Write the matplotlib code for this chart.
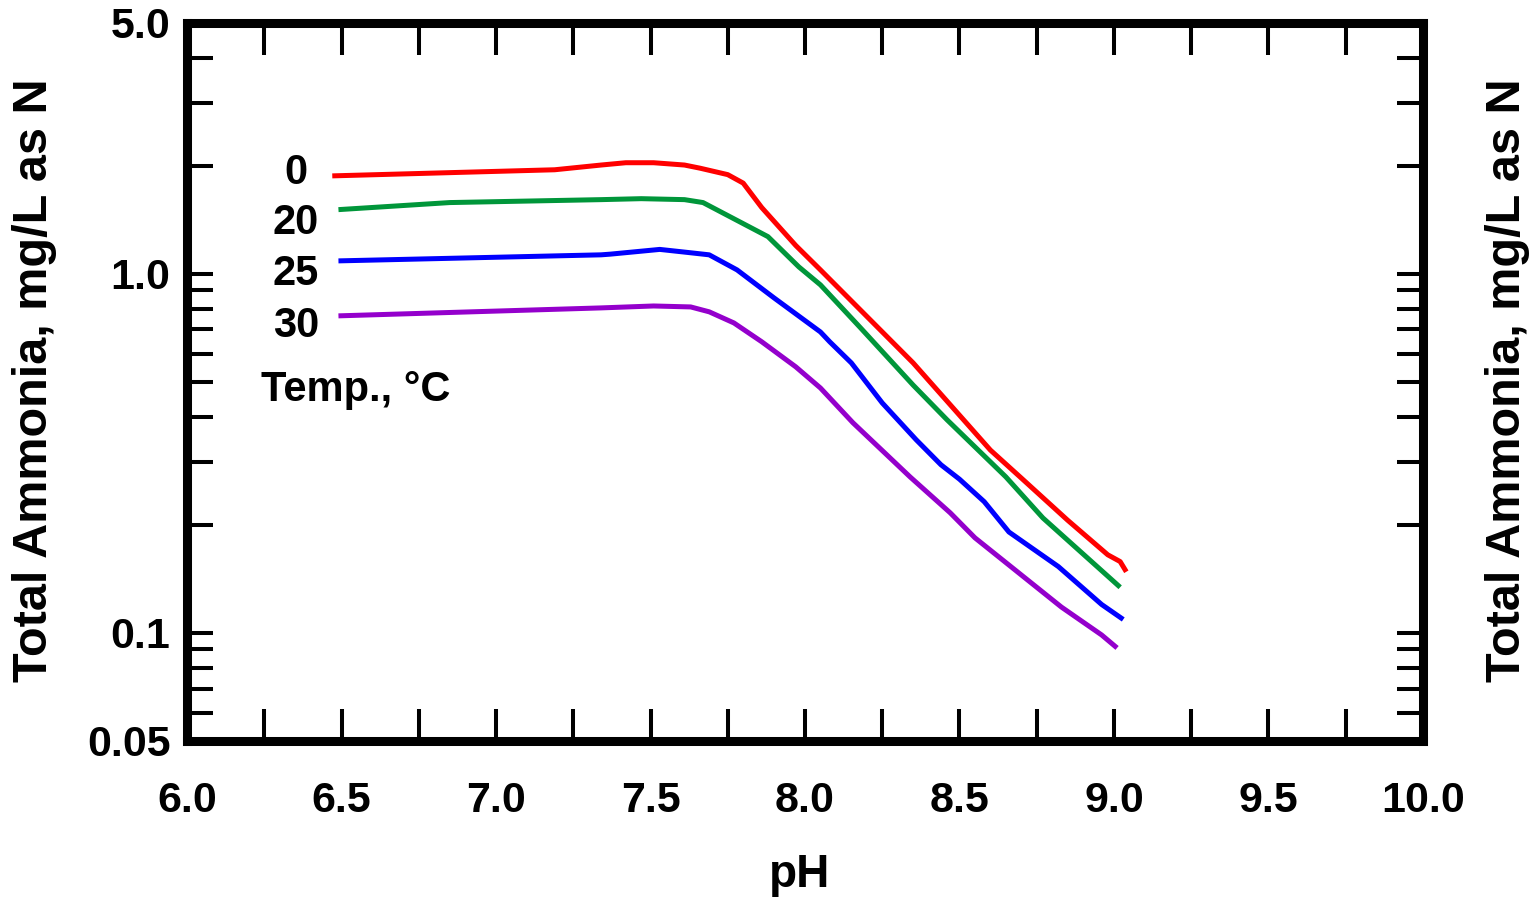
import numpy as np
import matplotlib
matplotlib.use("Agg")
import matplotlib.pyplot as plt
from matplotlib.ticker import FixedLocator, NullFormatter

plt.rcParams['font.family'] = ['Liberation Sans', 'DejaVu Sans']
plt.rcParams['font.weight'] = 'bold'

# Curves: pH vs total ammonia (mg/L as N)
ph_0 = [6.47, 7.19, 7.34, 7.42, 7.51, 7.61, 7.66, 7.75, 7.80, 7.86, 7.97, 8.05,
        8.35, 8.60, 8.70, 8.85, 8.98, 9.02, 9.04]
nh3_0 = [1.875, 1.95, 2.01, 2.04, 2.04, 2.01, 1.97, 1.89, 1.79, 1.53, 1.20, 1.026,
         0.565, 0.323, 0.270, 0.206, 0.165, 0.158, 0.148]

ph_20 = [6.49, 6.85, 7.34, 7.47, 7.61, 7.67, 7.88, 7.98, 8.05, 8.18, 8.35, 8.46,
         8.65, 8.77, 9.02]
nh3_20 = [1.51, 1.58, 1.61, 1.62, 1.61, 1.58, 1.27, 1.046, 0.932, 0.707, 0.49,
          0.392, 0.272, 0.209, 0.134]

ph_25 = [6.49, 7.34, 7.37, 7.53, 7.61, 7.69, 7.78, 7.90, 8.05, 8.08, 8.15, 8.25,
         8.36, 8.44, 8.50, 8.58, 8.66, 8.82, 8.96, 9.03]
nh3_25 = [1.087, 1.13, 1.135, 1.17, 1.15, 1.13, 1.026, 0.857, 0.689, 0.647, 0.565,
          0.437, 0.345, 0.294, 0.268, 0.232, 0.191, 0.153, 0.120, 0.109]

ph_30 = [6.49, 7.34, 7.51, 7.63, 7.69, 7.77, 7.86, 7.97, 8.05, 8.155, 8.34, 8.47,
         8.55, 8.83, 8.96, 9.01]
nh3_30 = [0.764, 0.804, 0.814, 0.809, 0.784, 0.730, 0.647, 0.551, 0.481, 0.385,
          0.272, 0.216, 0.184, 0.118, 0.0987, 0.0908]

curves = [("0", ph_0, nh3_0, "#ff0000", 1.91),
          ("20", ph_20, nh3_20, "#00963a", 1.387),
          ("25", ph_25, nh3_25, "#0000ff", 1.0),
          ("30", ph_30, nh3_30, "#9400cc", 0.716)]

x_labels = ["6.0", "6.5", "7.0", "7.5", "8.0", "8.5", "9.0", "9.5", "10.0"]
y_major = [0.05, 0.1, 1.0, 5.0]
y_labels = ["0.05", "0.1", "1.0", "5.0"]

fig = plt.figure(figsize=(15.37, 9.0), dpi=100)
ax = fig.add_axes([0.1217, 0.1767, 0.8041, 0.7978])

for name, x, y, c, ylab in curves:
    ax.plot(x, y, color=c, lw=3.6, solid_capstyle='butt', solid_joinstyle='round')
    ax.text(6.353, ylab, name, fontsize=30, fontweight='bold', ha='center', va='center')

ax.text(6.547, 0.475, "Temp., °C", fontsize=30, fontweight='bold', ha='center', va='center')

ax.set_yscale('log')
ax.set_xlim(6.0, 10.0)
ax.set_ylim(0.05, 5.0)

ax.set_xticks(np.arange(6.0, 10.01, 0.5))
ax.set_xticklabels(x_labels)
ax.set_xticks(np.arange(6.25, 10.0, 0.5), minor=True)

minor_y = [0.06, 0.07, 0.08, 0.09, 0.2, 0.3, 0.4, 0.5, 0.6, 0.7, 0.8, 0.9, 2, 3, 4]
ax.yaxis.set_major_locator(FixedLocator(y_major))
ax.set_yticklabels(y_labels)
ax.yaxis.set_minor_locator(FixedLocator(minor_y))
ax.yaxis.set_minor_formatter(NullFormatter())

for s in ax.spines.values():
    s.set_linewidth(6.5)

ax.tick_params(axis='x', which='both', direction='in', top=True, length=23, width=2.9,
               labelsize=31, pad=29)
ax.tick_params(axis='y', which='both', direction='in', right=True, length=19, width=2.9,
               labelsize=31, pad=12)
for lab in ax.get_xticklabels() + ax.get_yticklabels():
    lab.set_fontweight('bold')

fig.text(800 / 1537, 1 - 875 / 900, "pH", fontsize=33, fontweight='bold',
         ha='center', va='center')
fig.text(35 / 1537, 1 - 380 / 900, "Total Ammonia, mg/L as N", fontsize=35,
         fontweight='bold', rotation=90, ha='center', va='center')
fig.text(1507 / 1537, 1 - 380 / 900, "Total Ammonia, mg/L as N", fontsize=35,
         fontweight='bold', rotation=90, ha='center', va='center')

fig.savefig("out.png", dpi=100)
